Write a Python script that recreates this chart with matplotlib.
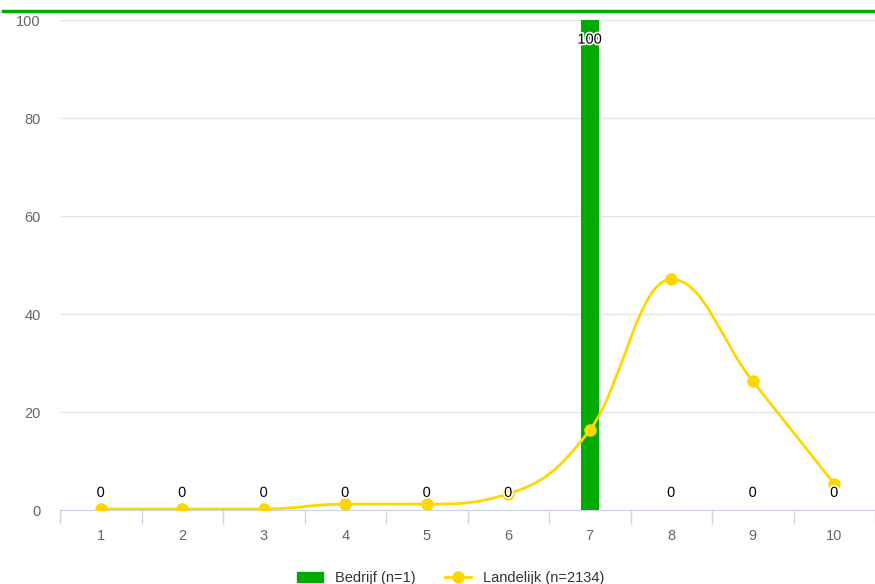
import numpy as np
import matplotlib
matplotlib.use('Agg')
import matplotlib.pyplot as plt
from matplotlib.path import Path
from matplotlib.patches import PathPatch, Patch
from matplotlib.lines import Line2D
import matplotlib.patheffects as pe

plt.rcParams['font.family'] = ['Liberation Sans', 'DejaVu Sans']

categories = ['1', '2', '3', '4', '5', '6', '7', '8', '9', '10']
bedrijf = [0, 0, 0, 0, 0, 0, 100, 0, 0, 0]
landelijk = [0.2, 0.2, 0.2, 1.2, 1.2, 3.3, 16.3, 47.1, 26.3, 5.3]
y_ticks = [0, 20, 40, 60, 80, 100]

GREEN = '#00aa00'
GOLD = '#ffd700'
GRAY = '#666666'


def spline_path(xs, ys, smoothing=1.5):
    # highcharts-like spline through the points
    n = len(xs)
    left = [None] * n
    right = [None] * n
    denom = smoothing + 1
    for i in range(n):
        x, y = xs[i], ys[i]
        if i == 0 or i == n - 1:
            left[i] = (x, y)
            right[i] = (x, y)
            continue
        lx, ly = xs[i - 1], ys[i - 1]
        nx, ny = xs[i + 1], ys[i + 1]
        lcx = (smoothing * x + lx) / denom
        lcy = (smoothing * y + ly) / denom
        rcx = (smoothing * x + nx) / denom
        rcy = (smoothing * y + ny) / denom
        if rcx != lcx:
            corr = (rcy - lcy) * (rcx - x) / (rcx - lcx) + y - rcy
            lcy += corr
            rcy += corr
        if lcy > ly and lcy > y:
            lcy = max(ly, y); rcy = 2 * y - lcy
        elif lcy < ly and lcy < y:
            lcy = min(ly, y); rcy = 2 * y - lcy
        if rcy > ny and rcy > y:
            rcy = max(ny, y); lcy = 2 * y - rcy
        elif rcy < ny and rcy < y:
            rcy = min(ny, y); lcy = 2 * y - rcy
        left[i] = (lcx, lcy)
        right[i] = (rcx, rcy)
    verts = [(xs[0], ys[0])]
    codes = [Path.MOVETO]
    for i in range(1, n):
        verts += [right[i - 1], left[i], (xs[i], ys[i])]
        codes += [Path.CURVE4] * 3
    return Path(verts, codes)


fig = plt.figure(figsize=(8.75, 5.84), dpi=100)
ax = fig.add_axes([60 / 875, 74 / 584, 815 / 875, 490 / 584])

x = np.arange(1, len(categories) + 1)
ax.bar(x, bedrijf, width=0.22, color=GREEN, zorder=2)

path = spline_path(list(x), landelijk)
ax.add_patch(PathPatch(path, facecolor='none', edgecolor=GOLD, lw=2, zorder=3))
ax.plot(x, landelijk, 'o', color=GOLD, ms=8, zorder=4)

for xi, v in zip(x, bedrijf):
    if v >= 95:
        ty = v - 4
    else:
        ty = v + 3.5
    ax.text(xi, ty, str(v), ha='center', va='center', fontsize=10.5, color='#000000',
            zorder=5, path_effects=[pe.withStroke(linewidth=2.5, foreground='white')])

ax.set_xlim(0.5, 10.5)
ax.set_ylim(0, 100)
ax.set_yticks(y_ticks)
ax.set_yticklabels([str(t) for t in y_ticks])
ax.set_xticks(x)
ax.set_xticklabels(categories)
ax.set_xticks(np.arange(0.5, 10.6, 1), minor=True)
ax.tick_params(axis='x', which='major', length=0, pad=14, colors=GRAY, labelsize=10.5)
ax.tick_params(axis='x', which='minor', length=10, color='#ccd6eb', width=1)
ax.tick_params(axis='y', length=0, pad=14, colors=GRAY, labelsize=10.5)
ax.grid(axis='y', color='#e6e6e6', lw=1, zorder=0)
ax.set_axisbelow(True)
for s in ['top', 'right', 'left']:
    ax.spines[s].set_visible(False)
ax.spines['bottom'].set_color('#ccd6eb')
ax.spines['bottom'].set_zorder(1)

# green rule at the top of the figure
fig.add_artist(Line2D([3 / 875, 1], [1 - 11 / 584, 1 - 11 / 584], color=GREEN, lw=2.5))

handles = [Patch(facecolor=GREEN, edgecolor=GREEN),
           Line2D([0], [0], color=GOLD, lw=2, marker='o', ms=8)]
fig.legend(handles, ['Bedrijf (n=1)', 'Landelijk (n=2134)'], loc='center',
           bbox_to_anchor=(0.515, 6 / 584), ncol=2, frameon=False, fontsize=10.5,
           handlelength=1.8, columnspacing=2, labelcolor='#333333')

fig.savefig('out.png', dpi=100)
